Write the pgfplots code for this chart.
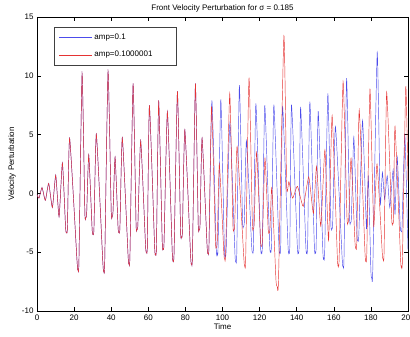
\documentclass[border=0pt]{standalone}
\usepackage{fontspec}
\setmainfont{Liberation Sans}
\usepackage{pgfplots}
\pgfplotsset{compat=1.18}
\definecolor{mblue}{rgb}{0.3,0.3,0.92}
\definecolor{mred}{rgb}{0.9,0.2,0.2}
\begin{document}
\begin{tikzpicture}
\begin{axis}[
  at={(0,0)}, anchor=south west,
  scale only axis, width=371pt, height=294pt,
  xmin=0, xmax=200, ymin=-10, ymax=15,
  xtick distance=20, ytick distance=5,
  tick align=inside, major tick length=4pt,
  axis line style={black, line width=0.5pt},
  every tick/.style={black, line width=0.5pt},
  /pgf/number format/assume math mode=true,
  tick label style={font=\fontsize{8}{9}\selectfont},
  label style={font=\fontsize{8}{9}\selectfont},
  every axis title shift=0pt,
  title style={font=\fontsize{8}{9}\selectfont, at={(axis description cs:0.5,1.028)}, anchor=center},
  xlabel style={at={(axis description cs:0.5,-0.054)}, anchor=center},
  ylabel style={at={(axis description cs:-0.067,0.5)}, anchor=center, rotate=0},
  title={Front Velocity Perturbation for σ = 0.185},
  xlabel={Time}, ylabel={Velocity Perturbation},
  legend style={name=leg, at={(0.0475,0.966)}, anchor=north west, draw=none, fill=white,
    font=\fontsize{8}{9}\selectfont, row sep=6pt, inner xsep=4pt, inner ysep=5pt,
    legend cell align=left},
  every axis plot/.append style={line width=0.45pt, smooth, tension=0.3},
]
\addplot[draw=mblue, legend image code/.code={\path[draw=mblue, line width=0.6pt] (0pt,0pt) -- (33pt,0pt);}] coordinates {
(0,-0.1) (1.1,-0.4) (2.7,0.5) (4.5,-0.6) (6.3,0.85) (8.3,-1.2) (10.1,1.55) (11.9,-2.0)
(13.7,2.6) (15.4,-2.9) (15.9,-3.35) (16.4,-2.9) (17.6,4.7) (21.6,-5.8) (22.1,-6.5) (22.6,-5.8)
(24.3,10.2) (25.8,-1.6) (26.3,-2.1) (26.8,-1.6) (27.9,3.3) (29.7,-3.0) (30.2,-3.5) (30.7,-3.0)
(32.0,5.05) (35.5,-5.9) (36.0,-6.6) (36.5,-5.9) (38.3,10.4) (40.0,-1.5) (40.5,-2.0) (41.0,-1.5)
(42.1,3.1) (43.7,-2.9) (44.2,-3.35) (44.7,-2.9) (46.0,4.75) (49.1,-5.3) (49.6,-6.0) (50.1,-5.3)
(51.8,9.35) (53.4,-2.6) (53.9,-3.05) (54.4,-2.6) (55.9,4.5) (58.5,-4.4) (59.0,-5.0) (59.5,-4.4)
(60.6,7.5) (63.4,-4.5) (63.9,-5.15) (64.4,-4.5) (65.6,7.9) (67.5,-4.1) (68.0,-4.7) (68.5,-4.1)
(70.3,6.95) (72.9,-5.0) (73.4,-5.7) (73.9,-5.0) (75.7,8.7) (77.4,-3.2) (77.9,-3.7) (78.4,-3.2)
(79.7,5.4) (82.8,-5.3) (83.3,-6.0) (83.8,-5.3) (85.4,9.35) (86.9,-2.6) (87.4,-3.1) (87.9,-2.6)
(89.0,4.7) (91.7,-4.5) (92.2,-5.1) (92.7,-4.5)
(94.3,7.9) (96.6,-4.6) (97.1,-5.1) (97.6,-4.6) (99.1,8.0) (101.0,-4.7) (101.5,-5.3) (102.0,-4.7)
(104.0,6.0) (106.7,-5.1) (107.2,-5.8) (107.7,-5.1) (109.1,9.2) (110.8,-2.3) (111.3,-2.8) (111.8,-2.3)
(112.9,4.5) (115.7,-4.4) (116.2,-5.0) (116.7,-4.4) (118.0,7.65) (120.5,-4.4) (121.0,-5.0) (121.5,-4.4)
(122.8,7.5) (125.4,-4.3) (125.9,-4.9) (126.4,-4.3) (127.7,7.55) (130.4,-4.4) (130.9,-5.0) (131.4,-4.4)
(132.4,7.45) (135.3,-4.4) (135.8,-5.0) (136.3,-4.4) (137.2,7.55) (140.3,-4.4) (140.8,-5.0) (141.3,-4.4)
(142.1,7.35) (144.9,-4.4) (145.4,-5.0) (145.9,-4.4) (147.1,7.8) (149.5,-4.4) (150.0,-5.0) (150.5,-4.4)
(151.6,7.0) (154.1,-4.9) (154.6,-5.5) (155.1,-4.9) (156.8,8.5) (158.4,-2.5) (158.9,-3.0) (159.4,-2.5)
(160.9,5.7) (164.5,-5.5) (165.0,-6.2) (165.5,-5.5) (166.9,9.8) (168.5,-2.0) (169.0,-2.5) (169.5,-2.0)
(170.8,4.8) (172.5,-3.5) (173.0,-4.0) (173.5,-3.5) (175.5,6.2) (177.6,-3.0) (178.6,1.5) (180.0,-6.6)
(180.5,-7.2) (181.0,-6.6) (183.4,12.0) (185.0,-0.8) (186.2,1.8) (187.4,-0.5) (188.8,1.5) (190.2,-1.2)
(192.0,2.0) (193.0,-1.8) (194.2,3.1) (195.8,-2.8) (196.3,-3.2) (196.8,-2.8) (198.3,5.0) (200.0,-4.8)
};
\addlegendentry{amp=0.1}
\addplot[draw=mred, legend image code/.code={\path[draw=mred, line width=0.6pt] (0pt,0pt) -- (33pt,0pt);}] coordinates {
(0,-0.1) (1.1,-0.4) (2.7,0.5) (4.5,-0.6) (6.3,0.85) (8.3,-1.2) (10.1,1.55) (11.9,-2.0)
(13.7,2.6) (15.4,-2.9) (15.9,-3.35) (16.4,-2.9) (17.6,4.7) (21.6,-5.8) (22.1,-6.5) (22.6,-5.8)
(24.3,10.2) (25.8,-1.6) (26.3,-2.1) (26.8,-1.6) (27.9,3.3) (29.7,-3.0) (30.2,-3.5) (30.7,-3.0)
(32.0,5.05) (35.5,-5.9) (36.0,-6.6) (36.5,-5.9) (38.3,10.4) (40.0,-1.5) (40.5,-2.0) (41.0,-1.5)
(42.1,3.1) (43.7,-2.9) (44.2,-3.35) (44.7,-2.9) (46.0,4.75) (49.1,-5.3) (49.6,-6.0) (50.1,-5.3)
(51.8,9.35) (53.4,-2.6) (53.9,-3.05) (54.4,-2.6) (55.9,4.5) (58.5,-4.4) (59.0,-5.0) (59.5,-4.4)
(60.6,7.5) (63.4,-4.5) (63.9,-5.15) (64.4,-4.5) (65.6,7.9) (67.5,-4.1) (68.0,-4.7) (68.5,-4.1)
(70.3,6.95) (72.9,-5.0) (73.4,-5.7) (73.9,-5.0) (75.7,8.7) (77.4,-3.2) (77.9,-3.7) (78.4,-3.2)
(79.7,5.4) (82.8,-5.3) (83.3,-6.0) (83.8,-5.3) (85.4,9.35) (86.9,-2.6) (87.4,-3.1) (87.9,-2.6)
(89.0,4.7) (91.7,-4.5) (92.2,-5.1) (92.7,-4.5)
(94.1,7.4) (96.2,-4.0) (96.7,-4.6) (97.2,-4.0) (98.3,2.5) (100.7,-5.0) (101.2,-5.6) (101.7,-5.0)
(103.9,8.5) (105.6,-2.6) (106.1,-3.1) (106.6,-2.6) (107.9,4.0) (111.5,-5.5) (112.0,-6.2) (112.5,-5.5)
(114.3,9.85) (116.1,-2.5) (116.6,-3.0) (117.1,-2.5) (118.4,3.5) (120.5,-4.0) (121.0,-4.5) (121.5,-4.0)
(122.9,3.0) (124.6,-3.0) (125.1,-3.4) (125.6,-3.0) (126.6,0.5) (128.8,-7.3) (129.5,-7.9) (130.2,-7.3)
(133.1,13.4) (134.6,0.5) (135.8,1.0) (137.8,-0.4) (140.4,0.6) (143.5,-1.1) (146.5,1.4) (149.0,-1.7)
(150.7,2.3) (153.0,-2.8) (155.2,3.7) (157.2,-4.0) (159.1,6.6) (161.9,-5.4) (162.4,-6.1) (162.9,-5.4)
(165.0,9.5) (167.1,-2.0) (167.6,-2.5) (168.1,-2.0) (169.3,3.0) (171.4,-4.1) (171.9,-4.7) (172.4,-4.1)
(173.7,7.1) (176.8,-5.0) (177.3,-5.7) (177.8,-5.0) (179.5,8.9) (181.5,-2.8) (183.3,2.5) (186.1,-5.0)
(186.6,-5.6) (187.1,-5.0) (188.5,8.6) (191.2,-2.1) (191.7,-2.55) (192.2,-2.1) (193.0,5.7) (196.0,-5.6)
(196.5,-6.2) (197.0,-5.6) (198.8,9.1) (200.0,1.0)
};
\addlegendentry{amp=0.1000001\hspace*{18pt}}
\end{axis}
\draw[black!75, line width=0.5pt] (leg.south west) rectangle (leg.north east);
\pgfresetboundingbox
\path[use as bounding box] (-37pt,-26pt) rectangle (373pt,311pt);
\end{tikzpicture}
\end{document}
